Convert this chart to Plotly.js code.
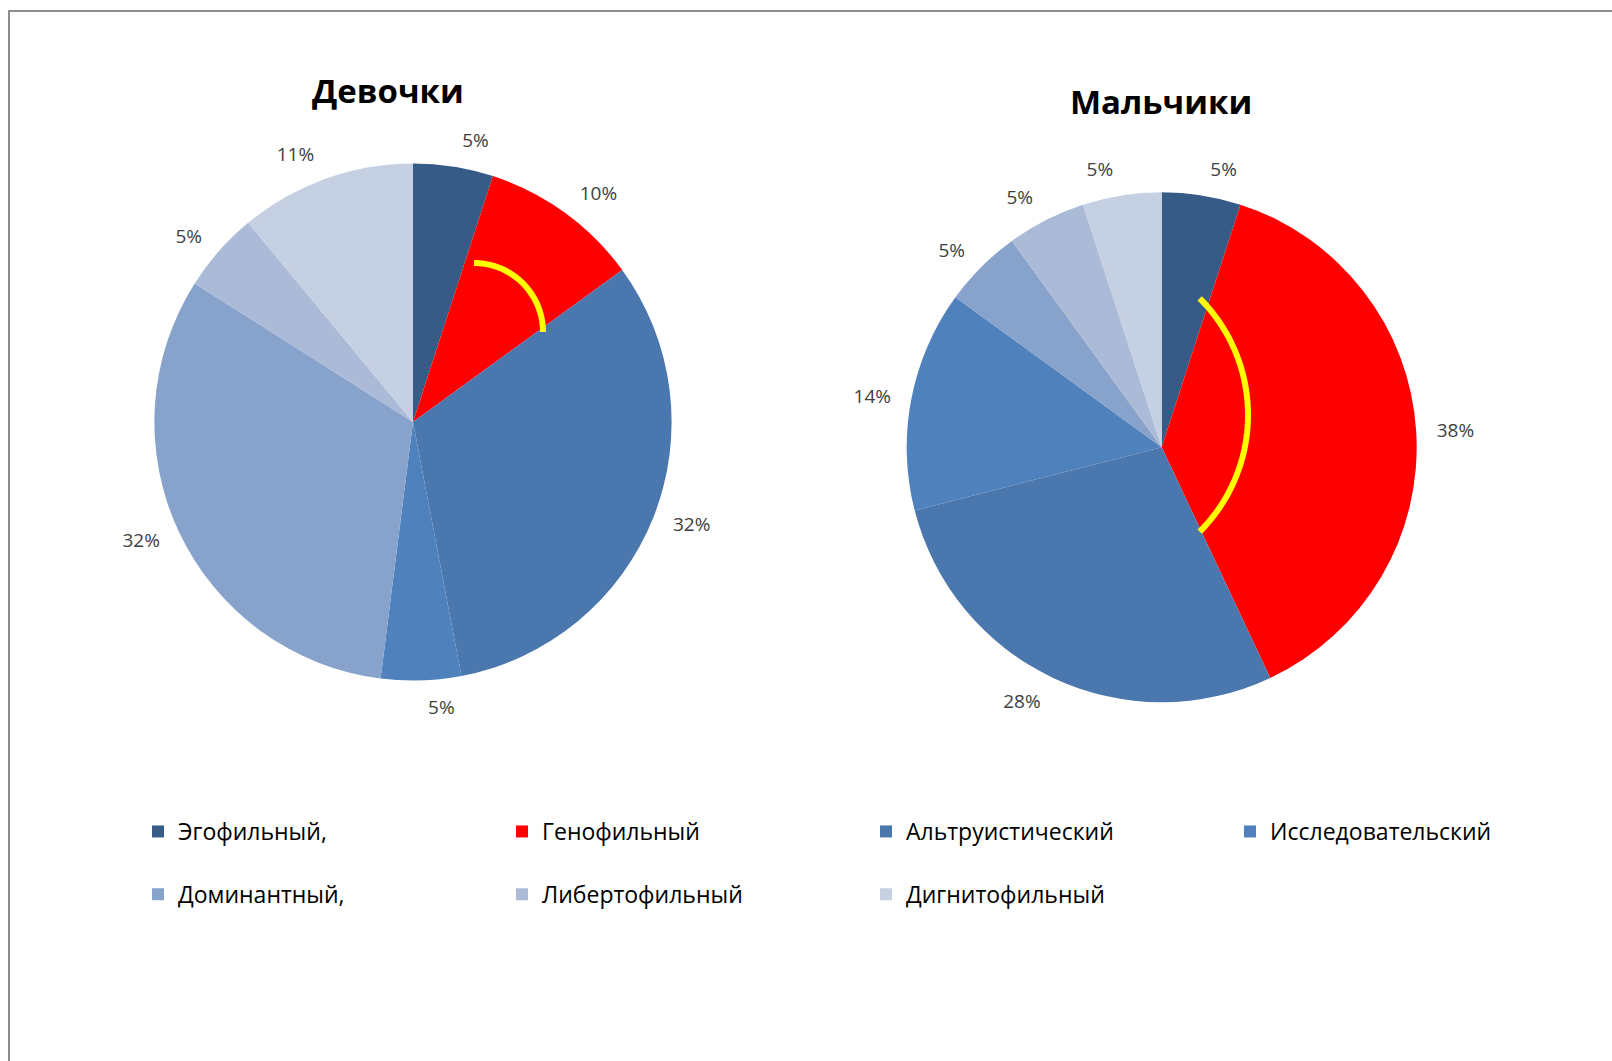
<!DOCTYPE html>
<html>
<head>
<meta charset="utf-8">
<script src="https://cdn.plot.ly/plotly-3.0.1.min.js"></script>
<style>
  html, body { margin: 0; padding: 0; background: #ffffff; }
  #chart { width: 1612px; height: 1061px; }
</style>
</head>
<body>
<div id="chart"></div>
<script>
// ---- data ----
const categories = ['Эгофильный,', 'Генофильный', 'Альтруистический', 'Исследовательский', 'Доминантный,', 'Либертофильный', 'Дигнитофильный'];
const girlsValues = [5, 10, 32, 5, 32, 5, 11];
const boysValues = [5, 38, 28, 14, 5, 5, 5];
const sliceColors = ['#375B87', '#FF0000', '#4A77AD', '#4F81BD', '#87A2CB', '#AABAD7', '#C5D0E3'];
const chartTitles = ['Девочки', 'Мальчики'];

// ---- layout helpers (pixel -> paper) ----
const W = 1612, H = 1061;
const FONT = '"Open Sans", "Noto Sans", sans-serif';
const LABEL_GAP = 14;   // extra distance of the percentage labels from the pie edge
const px = x => x / W;
const py = y => 1 - y / H;
function domainFor(cx, cy, r) {
  return { x: [px(cx - r), px(cx + r)], y: [py(cy + r), py(cy - r)] };
}
function arcPath(cx, cy, r, a0, a1, n) {
  let d = '';
  for (let i = 0; i <= n; i++) {
    const a = (a0 + (a1 - a0) * i / n) * Math.PI / 180;
    const x = cx + r * Math.cos(a), y = cy + r * Math.sin(a);
    d += (i ? ' L' : 'M') + px(x).toFixed(5) + ',' + py(y).toFixed(5);
  }
  return d;
}

const legendLabels = categories.map(c => c + '<br>\u00A0');

// visible pie (slices + legend)
function pieTrace(values, cx, cy, r, name) {
  return {
    type: 'pie',
    name: name,
    labels: legendLabels,
    values: values,
    domain: domainFor(cx, cy, r),
    sort: false,
    direction: 'clockwise',
    rotation: 0,
    marker: { colors: sliceColors, line: { width: 0 } },
    textinfo: 'none',
    hovertemplate: '%{label}: %{percent}<extra>' + name + '</extra>'
  };
}
// transparent companion pie that only carries the outside percentage labels
function labelTrace(values, cx, cy, r, name) {
  return {
    type: 'pie',
    name: name + ' labels',
    labels: legendLabels,
    values: values,
    domain: domainFor(cx, cy, r + LABEL_GAP),
    sort: false,
    direction: 'clockwise',
    rotation: 0,
    showlegend: false,
    hoverinfo: 'skip',
    marker: { colors: sliceColors.map(() => 'rgba(0,0,0,0)'), line: { width: 0 } },
    textinfo: 'percent',
    textposition: 'outside',
    outsidetextfont: { family: FONT, size: 19, color: '#404040' }
  };
}

const data = [
  labelTrace(girlsValues, 413, 422, 258.6, chartTitles[0]),
  labelTrace(boysValues, 1161.7, 447.2, 255, chartTitles[1]),
  pieTrace(girlsValues, 413, 422, 258.6, chartTitles[0]),
  pieTrace(boysValues, 1161.7, 447.2, 255, chartTitles[1])
];

const layout = {
  width: W,
  height: H,
  margin: { l: 0, r: 0, t: 0, b: 0 },
  paper_bgcolor: '#ffffff',
  font: { family: FONT, color: '#000000' },
  showlegend: true,
  legend: {
    orientation: 'h',
    x: px(138), y: py(810),
    xanchor: 'left', yanchor: 'top',
    entrywidth: 319, entrywidthmode: 'pixels',
    valign: 'top',
    traceorder: 'normal',
    font: { family: FONT, size: 23, color: '#000000' }
  },
  annotations: [
    { text: '<b>' + chartTitles[0] + '</b>', x: px(387.6), y: py(90.5), xref: 'paper', yref: 'paper',
      xanchor: 'center', yanchor: 'middle', showarrow: false, font: { family: FONT, size: 33, color: '#000' } },
    { text: '<b>' + chartTitles[1] + '</b>', x: px(1160.6), y: py(101.8), xref: 'paper', yref: 'paper',
      xanchor: 'center', yanchor: 'middle', showarrow: false, font: { family: FONT, size: 33, color: '#000' } }
  ],
  shapes: [
    { type: 'rect', xref: 'paper', yref: 'paper', x0: px(9), y0: py(11), x1: 1.02, y1: -0.02,
      line: { color: '#8C8C8C', width: 2 }, fillcolor: 'rgba(0,0,0,0)', layer: 'below' },
    { type: 'path', xref: 'paper', yref: 'paper', path: arcPath(474, 332, 69, -90, 0, 40),
      line: { color: '#FFFF00', width: 6 } },
    { type: 'path', xref: 'paper', yref: 'paper', path: arcPath(1083, 415, 165, -45, 45, 60),
      line: { color: '#FFFF00', width: 6 } }
  ]
};

Plotly.newPlot('chart', data, layout, { displayModeBar: false, responsive: false });
</script>
</body>
</html>
